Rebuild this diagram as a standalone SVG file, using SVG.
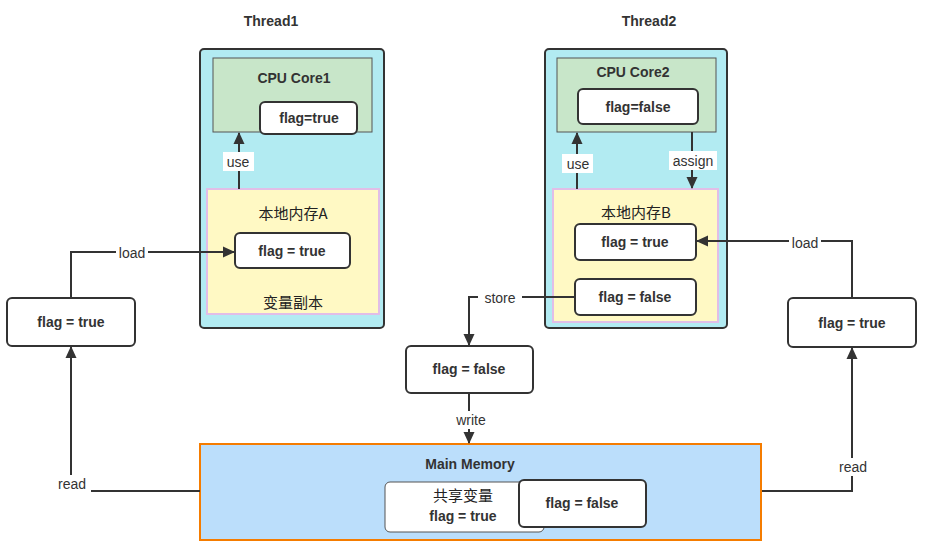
<svg xmlns="http://www.w3.org/2000/svg" width="927" height="553" viewBox="0 0 927 553">
<defs>
<marker id="ah" markerWidth="12" markerHeight="12" refX="11" refY="6" orient="auto" markerUnits="userSpaceOnUse" viewBox="0 0 12 12">
<path d="M0,0.5 L12,6 L0,11.5 Z" fill="#333"/>
</marker>
<style>
.t{font-family:"Liberation Sans","Noto Sans CJK SC",sans-serif;font-size:14px;font-weight:bold;fill:#333;text-anchor:middle;dominant-baseline:central}
.c{font-family:"Noto Sans CJK SC","Liberation Sans",sans-serif;font-size:15px;fill:#222;text-anchor:middle;dominant-baseline:central}
.lbl{font-family:"Liberation Sans",sans-serif;font-size:14px;fill:#333;text-anchor:middle;dominant-baseline:central}
.node{fill:#fff;stroke:#333;stroke-width:2}
.thread{fill:#b2ebf2;stroke:#333;stroke-width:2}
.cpu{fill:#c8e6c9;stroke:#555;stroke-width:1}
.local{fill:#fff9c4;stroke:#e1bee7;stroke-width:2}
.edge{fill:none;stroke:#333;stroke-width:2}
.lb{fill:#fff}
</style>
</defs>

<g id="thread1">
<text class="t" x="271" y="21">Thread1</text>
<rect class="thread" x="200" y="49" width="184" height="279" rx="4"/>
</g>
<g id="cpu1">
<rect class="cpu" x="213" y="58" width="159" height="74"/>
<text class="t" x="294" y="78">CPU Core1</text>
</g>
<g id="local1">
<rect class="local" x="207" y="189" width="172" height="125"/>
<text class="c" x="293" y="212">本地内存A</text>
<text class="c" x="293" y="301">变量副本</text>
</g>
<g id="core1flag">
<rect class="node" x="260" y="102" width="97" height="32" rx="5"/>
<text class="t" x="309" y="118">flag=true</text>
</g>
<g id="local1flag">
<rect class="node" x="235" y="233" width="115" height="35" rx="5"/>
<text class="t" x="292" y="251">flag = true</text>
</g>

<g id="thread2">
<text class="t" x="649" y="21">Thread2</text>
<rect class="thread" x="545" y="49" width="182" height="279" rx="4"/>
</g>
<g id="cpu2">
<rect class="cpu" x="557" y="58" width="159" height="74"/>
<text class="t" x="633" y="72">CPU Core2</text>
</g>
<g id="core2flag">
<rect class="node" x="578" y="89" width="120" height="35" rx="5"/>
<text class="t" x="638" y="107">flag=false</text>
</g>
<g id="local2">
<rect class="local" x="553" y="189" width="165" height="133"/>
<text class="c" x="636" y="211">本地内存B</text>
</g>
<g id="local2true">
<rect class="node" x="575" y="224" width="121" height="36" rx="5"/>
<text class="t" x="635" y="242">flag = true</text>
</g>
<g id="local2false">
<rect class="node" x="575" y="279" width="121" height="36" rx="5"/>
<text class="t" x="635" y="297">flag = false</text>
</g>

<g id="leftflag">
<rect class="node" x="7" y="298" width="128" height="48" rx="5"/>
<text class="t" x="71" y="322">flag = true</text>
</g>
<g id="rightflag">
<rect class="node" x="788" y="298" width="128" height="49" rx="5"/>
<text class="t" x="852" y="323">flag = true</text>
</g>
<g id="midflag">
<rect class="node" x="406" y="346" width="127" height="47" rx="5"/>
<text class="t" x="469" y="369">flag = false</text>
</g>

<g id="mainmemory">
<rect x="200" y="444" width="561" height="96" fill="#bbdefb" stroke="#f57c00" stroke-width="2"/>
<text class="t" x="470" y="464">Main Memory</text>
</g>
<g id="shared">
<rect x="385" y="482" width="159" height="50" rx="5" fill="#fff" stroke="#555" stroke-width="1"/>
<text class="c" x="463" y="494">共享变量</text>
<text class="t" x="463" y="516">flag = true</text>
</g>
<g id="mainflag">
<rect class="node" x="519" y="480" width="127" height="47" rx="5"/>
<text class="t" x="582" y="503">flag = false</text>
</g>

<g id="connectors">
<path class="edge" d="M239,189 V133" marker-end="url(#ah)"/>
<rect class="lb" x="223" y="152" width="31" height="19"/>
<text class="lbl" x="238" y="162">use</text>

<path class="edge" d="M577,189 V133" marker-end="url(#ah)"/>
<rect class="lb" x="562" y="154" width="31" height="19"/>
<text class="lbl" x="578" y="164">use</text>

<path class="edge" d="M692,132 V188" marker-end="url(#ah)"/>
<rect class="lb" x="669" y="151" width="48" height="19"/>
<text class="lbl" x="693" y="161">assign</text>

<path class="edge" d="M71,298 V252 H234" marker-end="url(#ah)"/>
<rect class="lb" x="116" y="244" width="32" height="18"/>
<text class="lbl" x="132" y="253">load</text>

<path class="edge" d="M200,491 H71 V347" marker-end="url(#ah)"/>
<rect class="lb" x="54" y="475" width="37" height="18"/>
<text class="lbl" x="72" y="484">read</text>

<path class="edge" d="M852,298 V241 H697" marker-end="url(#ah)"/>
<rect class="lb" x="789" y="234" width="32" height="18"/>
<text class="lbl" x="805" y="243">load</text>

<path class="edge" d="M762,491 H852 V348" marker-end="url(#ah)"/>
<rect class="lb" x="834" y="458" width="38" height="18"/>
<text class="lbl" x="853" y="467">read</text>

<path class="edge" d="M575,297 H469 V345" marker-end="url(#ah)"/>
<rect class="lb" x="478" y="289" width="44" height="18"/>
<text class="lbl" x="500" y="298">store</text>

<path class="edge" d="M469,393 V443" marker-end="url(#ah)"/>
<rect class="lb" x="450" y="411" width="41" height="18"/>
<text class="lbl" x="471" y="420">write</text>
</g>
</svg>
